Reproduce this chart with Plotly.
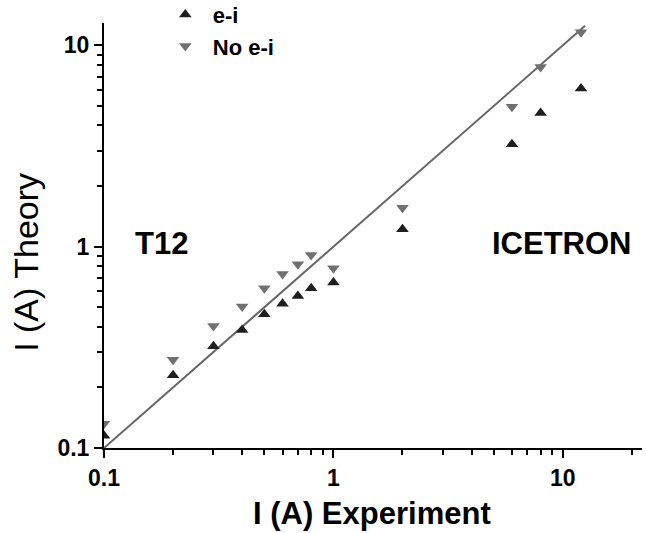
import plotly.graph_objects as go

# Measured vs. computed current, T12 and ICETRON devices
exp_current = [0.1, 0.2, 0.3, 0.4, 0.5, 0.6, 0.7, 0.8, 1.0, 2.0, 6.0, 8.0, 12.0]
theory_ei = [0.115, 0.23, 0.32, 0.386, 0.462, 0.52, 0.569, 0.622, 0.663, 1.22, 3.23, 4.61, 6.1]
theory_no_ei = [0.132, 0.274, 0.404, 0.504, 0.622, 0.732, 0.818, 0.909, 0.781, 1.56, 4.95, 7.81, 11.6]

# y = x reference line
ideal_x = [0.1, 12.5]
ideal_y = [0.1, 12.5]

major_ticks = [0.1, 1, 10]
major_text = ["0.1", "1", "10"]
minor_ticks = [0.2, 0.3, 0.4, 0.5, 0.6, 0.7, 0.8, 0.9,
               2, 3, 4, 5, 6, 7, 8, 9, 20]

FONT = "Arial, Liberation Sans, sans-serif"

fig = go.Figure()

fig.add_trace(go.Scatter(
    x=ideal_x, y=ideal_y, mode="lines",
    line=dict(color="#666666", width=2),
    showlegend=False, hoverinfo="skip",
))
fig.add_trace(go.Scatter(
    x=exp_current, y=theory_ei, mode="markers", name="e-i",
    marker=dict(symbol="triangle-up", size=11, color="#1e1e1e"),
))
fig.add_trace(go.Scatter(
    x=exp_current, y=theory_no_ei, mode="markers", name="No e-i",
    marker=dict(symbol="triangle-down", size=11, color="#707070"),
))

axis_common = dict(
    type="log",
    showgrid=False, zeroline=False,
    showline=True, linecolor="black", linewidth=2,
    ticks="outside", ticklen=8, tickwidth=2, tickcolor="black",
    tickvals=major_ticks, ticktext=major_text,
    tickfont=dict(family=FONT, size=23, color="black", weight="bold"),
    minor=dict(tickvals=minor_ticks, ticks="outside", ticklen=5,
               tickwidth=1.5, tickcolor="black", showgrid=False),
)

big = dict(family=FONT, size=31, color="black", weight="bold")

fig.update_layout(
    width=646, height=533,
    margin=dict(l=104, r=4, t=23, b=85, autoexpand=False),
    paper_bgcolor="white", plot_bgcolor="white",
    font=dict(family=FONT, color="black"),
    xaxis=dict(range=[-1, 1.345], **axis_common),
    yaxis=dict(range=[-1, 1.111], **axis_common),
    legend=dict(
        x=0.1, y=1.069, xanchor="left", yanchor="top",
        font=dict(family=FONT, size=22, color="black", weight="bold"),
        bgcolor="rgba(0,0,0,0)", itemwidth=45,
    ),
    annotations=[
        dict(text="T12", x=0.106, y=0.482, xref="paper", yref="paper",
             xanchor="center", yanchor="middle", showarrow=False, font=big),
        dict(text="ICETRON", x=0.851, y=0.482, xref="paper", yref="paper",
             xanchor="center", yanchor="middle", showarrow=False, font=big),
        dict(text="I (A) Experiment", x=0.498, y=-0.155, xref="paper", yref="paper",
             xanchor="center", yanchor="middle", showarrow=False, font=big),
        dict(text="I (A) Theory", x=-0.145, y=0.438, xref="paper", yref="paper",
             xanchor="center", yanchor="middle", showarrow=False, textangle=-90,
             font=dict(family=FONT, size=34, color="black")),
    ],
)

fig.write_html("out.html")
